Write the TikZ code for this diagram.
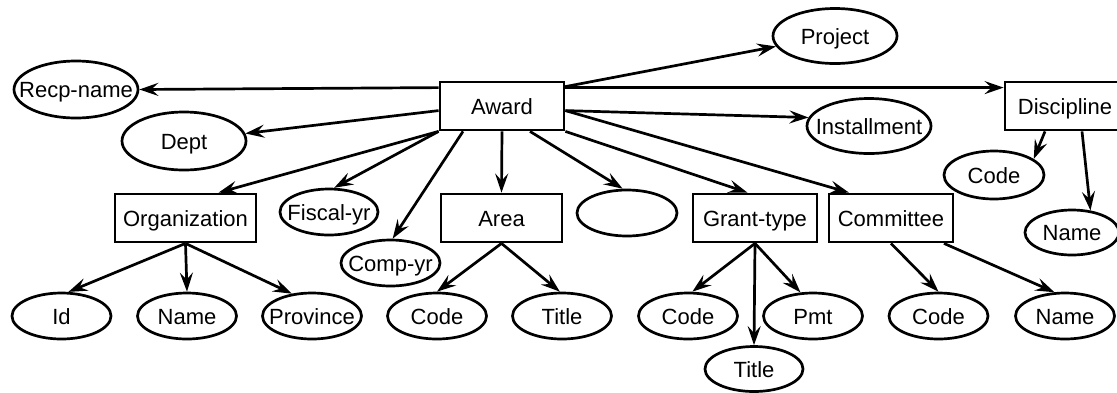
\documentclass[tikz,border=0pt]{standalone}
\usepackage{fontspec}
\setmainfont{Liberation Sans}
\usetikzlibrary{shapes.geometric,arrows.meta}
\begin{document}
\begin{tikzpicture}[x=1pt,y=-1pt,
  every node/.style={font=\fontsize{22}{26}\selectfont, inner sep=0pt,
    text height=16pt, text depth=0pt},
  entity/.style={draw, rectangle, line width=2.8pt,
    minimum width=#1pt, minimum height=48pt},
  attr/.style 2 args={draw, ellipse, line width=2.7pt,
    minimum width=#1pt, minimum height=#2pt},
  link/.style={-{Stealth[length=19pt,width=13pt,inset=7pt]}, line width=2.7pt},
]
\useasboundingbox (0,0) rectangle (1117,392);

% entities
\node[entity=124] (award)      at (502,106)   {Award};
\node[entity=120] (discipline) at (1065,106)  {Discipline};
\node[entity=141] (org)        at (185.5,218) {Organization};
\node[entity=121] (area)       at (501.5,218) {Area};
\node[entity=124] (grant)      at (755,218)   {Grant-type};
\node[entity=124] (committee)  at (891,218)   {Committee};

% attributes
\node[attr={124}{55}] (project)     at (835,36)    {\makebox[0pt]{Project}};
\node[attr={124}{57}] (recp)        at (76,89.5)   {\makebox[0pt]{Recp-name}};
\node[attr={124}{58}] (dept)        at (184,141)   {\makebox[0pt]{Dept}};
\node[attr={124}{55}] (installment) at (869,126)   {\makebox[0pt]{Installment}};
\node[attr={100}{48}] (dcode)       at (994,175)   {\makebox[0pt]{Code}};
\node[attr={94}{45}]  (dname)       at (1072,232.5){\makebox[0pt]{Name}};
\node[attr={98}{46}]  (fiscal)      at (329,212)   {\makebox[0pt]{Fiscal-yr}};
\node[attr={99}{46}]  (compyr)      at (390.5,263) {\makebox[0pt]{Comp-yr}};
\node[attr={100}{46}] (blank)       at (627,213)   {};
\node[attr={99}{46}]  (id)          at (61.5,316)  {\makebox[0pt]{Id}};
\node[attr={99}{46}]  (oname)       at (187,316)   {\makebox[0pt]{Name}};
\node[attr={99}{46}]  (province)    at (312,316)   {\makebox[0pt]{Province}};
\node[attr={99}{46}]  (acode)       at (437,316)   {\makebox[0pt]{Code}};
\node[attr={99}{46}]  (atitle)      at (562,316)   {\makebox[0pt]{Title}};
\node[attr={99}{46}]  (gcode)       at (688,316)   {\makebox[0pt]{Code}};
\node[attr={99}{46}]  (pmt)         at (813,316)   {\makebox[0pt]{Pmt}};
\node[attr={99}{46}]  (ccode)       at (938.5,316) {\makebox[0pt]{Code}};
\node[attr={99}{46}]  (cname)       at (1065,316)  {\makebox[0pt]{Name}};
\node[attr={98}{45}]  (gtitle)      at (754,369)   {\makebox[0pt]{Title}};

% Award relationships
\draw[link] ([yshift=-7pt]award.north west) -- (recp.east);
\draw[link] ([yshift=-30pt]award.north west) -- (dept.7);
\draw[link] (award.south west) -- ([xshift=33pt]org.north);
\draw[link] (award.south west) -- (fiscal.78);
\draw[link] ([xshift=-39pt]award.south) -- (compyr.85);
\draw[link] (award.south) -- (area.north);
\draw[link] ([xshift=28pt]award.south) -- (blank.100);
\draw[link] (award.south east) -- ([xshift=-7.5pt]grant.north);
\draw[link] ([yshift=-30pt]award.north east) -- ([xshift=-42pt]committee.north);
\draw[link] ([yshift=-30pt]award.north east) -- (installment.172);
\draw[link] ([yshift=-6pt]award.north east) -- (project.190);
\draw[link] ([yshift=-7pt]award.north east) -- ([yshift=-7pt]discipline.north west);

% Discipline attributes
\draw[link] ([xshift=-20pt]discipline.south) -- (dcode.22);
\draw[link] ([xshift=17pt]discipline.south) -- (dname.50);

% Organization attributes
\draw[link] (org.south) -- (id.74);
\draw[link] (org.south) -- (oname.north);
\draw[link] (org.south) -- (province.132);

% Area attributes
\draw[link] (area.south) -- (acode.north);
\draw[link] (area.south) -- (atitle.95);

% Grant-type attributes
\draw[link] (grant.south) -- (gcode.80);
\draw[link] (grant.south) -- (gtitle.north);
\draw[link] (grant.south) -- (pmt.118);

% Committee attributes
\draw[link] (committee.south) -- (ccode.north);
\draw[link] ([xshift=53pt]committee.south) -- (cname.114);
\end{tikzpicture}
\end{document}
